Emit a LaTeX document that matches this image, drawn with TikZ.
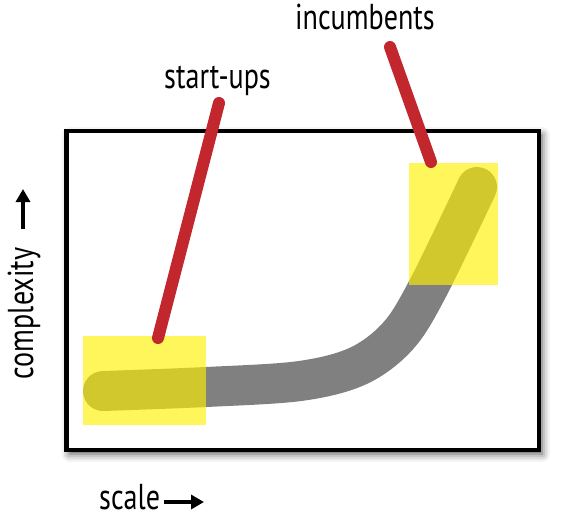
\documentclass[tikz,border=0pt]{standalone}
\usepackage{fontspec}
\newfontfamily\labfont{PT Sans}[FakeStretch=0.78]
\usetikzlibrary{shadows.blur,arrows.meta}
\definecolor{hlred}{RGB}{193,39,45}
\definecolor{hlyellow}{RGB}{255,242,0}
\definecolor{pathgray}{RGB}{128,128,128}
\tikzset{
  lab/.style={font=\labfont\fontsize{36}{36}\selectfont, inner sep=0pt},
  pointer/.style={draw=hlred, line width=12pt, line cap=round},
  zone/.style={fill=hlyellow, fill opacity=0.64},
  axisarrow/.style={line width=4pt, -{Triangle[length=13pt,width=14pt]}},
}
\begin{document}
\begin{tikzpicture}[x=1pt,y=-1pt]
\useasboundingbox (0,0) rectangle (561,523);
% frame
\node[draw=black, line width=4.5pt, fill=white, minimum width=472.5pt, minimum height=319pt, inner sep=0pt,
  blur shadow={shadow xshift=3pt, shadow yshift=-4pt, shadow blur radius=8pt, shadow opacity=70}]
  (frame) at (302.75,290.5) {};
% growth path
\draw[pathgray, line width=40pt, line cap=round]
  plot[smooth, tension=0.55] coordinates {(103,391) (206,387) (300,381) (358,366) (398,336) (428,288) (477,187)};
% zones
\fill[zone] (83,336) rectangle (206,425);
\fill[zone] (409,163) rectangle (498,285);
% labels
\node[lab, anchor=base] (su) at (217.5,88) {start-ups};
\node[lab, anchor=base] (inc) at (365,29) {incumbents};
\node[lab, anchor=base west] (sc) at (99,509) {scale};
\node[lab, anchor=base, rotate=90] (cx) at (33,313.5) {complexity};
% pointers
\coordinate (suA) at (158,338);
\coordinate (suB) at (219,103);
\coordinate (incA) at (431,162);
\coordinate (incB) at (390,47);
\draw[pointer] (suA) -- (suB);
\draw[pointer] (incA) -- (incB);
% axis arrows
\coordinate (cxA) at (23,229);
\coordinate (cxB) at (23,189);
\coordinate (scA) at (164,502);
\coordinate (scB) at (204,502);
\draw[axisarrow] (cxA) -- (cxB);
\draw[axisarrow] (scA) -- (scB);
\end{tikzpicture}
\end{document}
